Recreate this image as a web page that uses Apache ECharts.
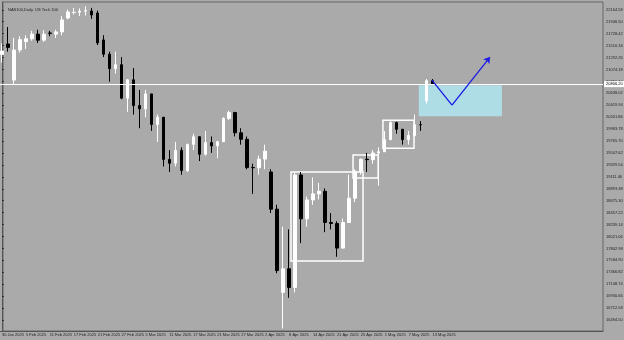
<!DOCTYPE html>
<html><head><meta charset="utf-8">
<script src="https://cdn.jsdelivr.net/npm/echarts@6/dist/echarts.min.js"></script>
<style>html,body{margin:0;padding:0;background:#aaaaaa;}#c{width:624px;height:340px;}</style>
</head><body><div id="c"></div>
<script>
const dates = ['30 Jan 2025','31 Jan 2025','3 Feb 2025','4 Feb 2025','5 Feb 2025','6 Feb 2025','7 Feb 2025','10 Feb 2025','11 Feb 2025','12 Feb 2025','13 Feb 2025','14 Feb 2025','17 Feb 2025','18 Feb 2025','19 Feb 2025','20 Feb 2025','21 Feb 2025','24 Feb 2025','25 Feb 2025','26 Feb 2025','27 Feb 2025','28 Feb 2025','3 Mar 2025','4 Mar 2025','5 Mar 2025','6 Mar 2025','7 Mar 2025','10 Mar 2025','11 Mar 2025','12 Mar 2025','13 Mar 2025','14 Mar 2025','17 Mar 2025','18 Mar 2025','19 Mar 2025','20 Mar 2025','21 Mar 2025','24 Mar 2025','25 Mar 2025','26 Mar 2025','27 Mar 2025','28 Mar 2025','31 Mar 2025','1 Apr 2025','2 Apr 2025','3 Apr 2025','4 Apr 2025','7 Apr 2025','8 Apr 2025','9 Apr 2025','10 Apr 2025','11 Apr 2025','14 Apr 2025','15 Apr 2025','16 Apr 2025','17 Apr 2025','21 Apr 2025','22 Apr 2025','23 Apr 2025','24 Apr 2025','25 Apr 2025','28 Apr 2025','29 Apr 2025','30 Apr 2025','1 May 2025','2 May 2025','5 May 2025','6 May 2025','7 May 2025','8 May 2025','9 May 2025','12 May 2025','13 May 2025'];
const opens  = [21350,21540,20880,21430,21583,21636,21720,21610,21740,21720,21760,22015,22115,22120,22140,22143,22106,21614,21353,21089,21161,20550,20884,20414,20354,20627,20069,20201,19430,19361,19596,19226,19704,19845,19524,19737,19677,19754,20180,20287,19916,19798,19281,19278,19436,19200,18521,17000,17431,17090,19145,18344,18690,18800,18847,18278,18258,17809,18276,18721,19213,19432,19426,19547,19571,19791,20102,19981,19792,19868,20064,20500,20868];
const closes = [21411,21478,21430,21620,21636,21720,21610,21720,21735,21760,21980,22125,22120,22140,22150,22070,21560,21353,21089,21161,20550,20884,20414,20354,20627,20069,20201,19430,19361,19596,19226,19704,19845,19524,19737,19677,19754,20180,20287,19916,19798,19281,19278,19436,19581,18521,17398,17431,17090,19145,18344,18690,18800,18847,18278,18258,17809,18276,18721,19213,19432,19426,19547,19571,19791,20102,19981,19792,19868,20064,20062,20868,20810];
const lows   = [21200,21400,20800,21380,21450,21600,21560,21580,21680,21650,21700,21990,22080,22050,22060,22000,21520,21300,20850,21000,20530,20300,20250,20000,20200,19950,19750,19300,19200,19300,19150,19200,19600,19400,19500,19550,19450,19950,20150,19850,19700,19250,18800,19150,19250,18450,17350,16340,16900,17000,17900,18200,18600,18700,18100,18150,17650,17800,18600,18650,19150,19200,19350,18950,19700,19800,19900,19700,19700,19850,19950,20450,20800];
const highs  = [21550,21850,21650,21680,21700,21780,21800,21790,21780,21800,22050,22170,22200,22190,22230,22200,22150,21700,21400,21400,21300,20900,21100,20700,20700,20400,20250,20100,19600,19750,19650,19720,19900,19850,19950,19850,19770,20200,20320,20300,20000,19850,19350,19500,19700,19250,18600,18200,18150,19200,19200,18750,19100,19000,18900,18450,18300,18350,19150,19250,19450,19550,19600,19650,19950,20150,20120,19950,19950,20250,20130,20900,20900];
const priceTicks = [16494.50,16712.58,16930.66,17148.74,17366.82,17584.90,17802.98,18021.06,18239.14,18457.22,18675.30,18893.38,19111.46,19329.54,19547.62,19765.70,19983.78,20201.86,20419.94,20638.02,20856.10,21074.18,21292.26,21510.34,21728.42,21946.50,22164.58];
const currentPrice = 20806.20;
const whiteBoxes = [[48.33,19198,60.37,17571],[58.7,19509,62.9,19088],[63.7,20148,68.9,19636]];
const blueZone = [69.7,20788,83.6,20221];
const arrowPath = [[71.9,20880],[75.25,20423],[81.6,21300]];
const title = 'NAS100,Daily  US Tech 100';

const N = 101;
const cats = [];
for (let i = 0; i < N; i++) cats.push(i < dates.length ? dates[i] : '');
const ohlc = dates.map((d, i) => [opens[i], closes[i], lows[i], highs[i]]);
const showLab = (i) => i % 4 === 0 && i < dates.length;
const FONT = 'Liberation Sans';

const chart = echarts.init(document.getElementById('c'), null, {renderer: 'canvas'});
chart.setOption({
  backgroundColor: '#aaaaaa',
  animation: false,
  title: {text: title, left: 3, top: 3, textStyle: {fontSize: 4, fontWeight: 'normal', color: '#222', fontFamily: FONT}},
  grid: {left: -1, right: 21, top: 2, bottom: 9, outerBoundsMode: 'none', containLabel: false},
  xAxis: [{
    type: 'category', data: cats, boundaryGap: true,
    axisLine: {lineStyle: {color: '#555'}},
    axisTick: {alignWithLabel: true, interval: showLab, length: 2, lineStyle: {color: '#333'}},
    axisLabel: {interval: 0, formatter: (v, i) => showLab(i) ? v : '', showMinLabel: true, showMaxLabel: true, hideOverlap: false, align: 'left', margin: 2, fontSize: 4, color: '#222', fontFamily: FONT},
    splitLine: {show: false}
  }, {
    type: 'value', min: -0.5, max: N - 0.5, show: false
  }],
  yAxis: {
    type: 'value', position: 'right', min: 16293.5, max: 22307.5, scale: true,
    axisLine: {show: true, lineStyle: {color: '#555'}},
    axisTick: {show: true, length: 2, customValues: priceTicks, lineStyle: {color: '#333'}},
    axisLabel: {customValues: priceTicks, formatter: v => v.toFixed(2), fontSize: 4, margin: 3, color: '#222', fontFamily: FONT},
    splitLine: {show: false}
  },
  graphic: [{type: 'rect', shape: {x: 3, y: 2, width: 600, height: 329}, style: {fill: 'none', stroke: '#666', lineWidth: 1}, silent: true}],
  series: [{
    type: 'candlestick', data: ohlc, barWidth: 3,
    itemStyle: {color: '#ffffff', color0: '#000000', borderColor: '#ffffff', borderColor0: '#000000', borderWidth: 1},
    markLine: {
      silent: true, symbol: 'none', animation: false,
      lineStyle: {color: '#ffffff', width: 1, type: 'solid'},
      label: {show: true, position: 'end', distance: 1, formatter: currentPrice.toFixed(2), backgroundColor: '#ffffff', color: '#000', fontSize: 4, padding: [1, 2], fontFamily: FONT},
      data: [{yAxis: currentPrice}]
    }
  }, {
    type: 'line', xAxisIndex: 1, data: [], silent: true,
    markArea: {
      silent: true,
      data: [
        [{coord: [blueZone[0], blueZone[1]], itemStyle: {color: '#aedde6', borderWidth: 0}}, {coord: [blueZone[2], blueZone[3]]}]
      ].concat(whiteBoxes.map(b => [{coord: [b[0], b[1]], itemStyle: {color: 'rgba(0,0,0,0)', borderColor: '#ffffff', borderWidth: 1.5}}, {coord: [b[2], b[3]]}]))
    },
    markLine: {
      silent: true, animation: false,
      lineStyle: {color: '#1a1ae6', width: 1.3, type: 'solid'},
      label: {show: false},
      data: [
        [{coord: arrowPath[0], symbol: 'none'}, {coord: arrowPath[1], symbol: 'none'}],
        [{coord: arrowPath[1], symbol: 'none'}, {coord: arrowPath[2], symbol: 'arrow', symbolSize: 6}]
      ]
    }
  }]
});
</script></body></html>
